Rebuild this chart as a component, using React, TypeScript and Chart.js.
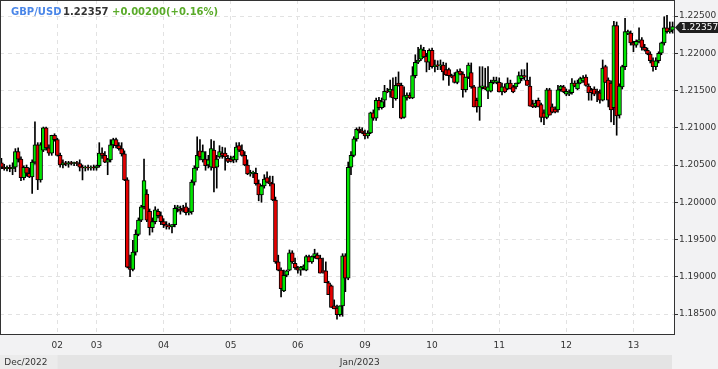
import React, { useEffect, useRef } from "react";
import { Chart, registerables } from "chart.js";

Chart.register(...registerables);

// Hourly GBP/USD candles: [open, high, low, close]
const candles: [number, number, number, number][] = [
  // Dec 30
  [1.2053, 1.2059, 1.2045, 1.2047], [1.2047, 1.2051, 1.2043, 1.2045], [1.2045, 1.2049, 1.2042, 1.2047],
  [1.2047, 1.2050, 1.2041, 1.2045], [1.2045, 1.2053, 1.2037, 1.2047], [1.2047, 1.2072, 1.2041, 1.2068],
  [1.2068, 1.2073, 1.2054, 1.2058], [1.2058, 1.2061, 1.2029, 1.2033], [1.2033, 1.2049, 1.2030, 1.2047],
  [1.2047, 1.2050, 1.2035, 1.2039], [1.2039, 1.2046, 1.2033, 1.2034], [1.2034, 1.2057, 1.2012, 1.2054],
  [1.2054, 1.2108, 1.2051, 1.2077], [1.2077, 1.2080, 1.2017, 1.2030], [1.2030, 1.2080, 1.2027, 1.2077],
  [1.2070, 1.2101, 1.2068, 1.2100], [1.2100, 1.2101, 1.2070, 1.2073], [1.2073, 1.2077, 1.2063, 1.2066],
  [1.2066, 1.2090, 1.2063, 1.2090], [1.2090, 1.2092, 1.2082, 1.2084],
  // Jan 02
  [1.2084, 1.2086, 1.2062, 1.2063], [1.2063, 1.2066, 1.2047, 1.2050], [1.2050, 1.2057, 1.2046, 1.2053],
  [1.2053, 1.2055, 1.2049, 1.2051], [1.2051, 1.2055, 1.2047, 1.2053], [1.2053, 1.2055, 1.2050, 1.2052],
  [1.2052, 1.2054, 1.2049, 1.2053], [1.2053, 1.2055, 1.2049, 1.2052], [1.2052, 1.2057, 1.2042, 1.2047],
  [1.2047, 1.2050, 1.2030, 1.2046], [1.2046, 1.2049, 1.2042, 1.2047], [1.2047, 1.2050, 1.2043, 1.2046],
  [1.2046, 1.2049, 1.2043, 1.2047], [1.2047, 1.2050, 1.2043, 1.2046],
  // Jan 03
  [1.2046, 1.2050, 1.2043, 1.2049], [1.2049, 1.2080, 1.2047, 1.2066], [1.2066, 1.2073, 1.2059, 1.2063],
  [1.2063, 1.2068, 1.2053, 1.2054], [1.2054, 1.2059, 1.2037, 1.2057], [1.2057, 1.2084, 1.2054, 1.2077],
  [1.2077, 1.2086, 1.2073, 1.2084], [1.2084, 1.2086, 1.2073, 1.2076], [1.2076, 1.2080, 1.2070, 1.2072],
  [1.2072, 1.2080, 1.2062, 1.2065], [1.2065, 1.2069, 1.2029, 1.2030], [1.2030, 1.2033, 1.1912, 1.1913],
  [1.1913, 1.1929, 1.1900, 1.1910], [1.1910, 1.1949, 1.1908, 1.1933], [1.1933, 1.1963, 1.1929, 1.1957],
  [1.1957, 1.1979, 1.1955, 1.1976], [1.1976, 1.1996, 1.1974, 1.1994], [1.1994, 1.2058, 1.1991, 1.2029],
  [1.2011, 1.2017, 1.1974, 1.1976], [1.1988, 1.1991, 1.1956, 1.1966], [1.1966, 1.1979, 1.1960, 1.1974],
  [1.1974, 1.1994, 1.1971, 1.1990], [1.1988, 1.1991, 1.1979, 1.1982], [1.1982, 1.1987, 1.1970, 1.1974],
  // Jan 04
  [1.1974, 1.1978, 1.1966, 1.1970], [1.1970, 1.1974, 1.1964, 1.1968], [1.1968, 1.1972, 1.1964, 1.1967],
  [1.1967, 1.1970, 1.1959, 1.1970], [1.1970, 1.1996, 1.1967, 1.1992], [1.1992, 1.1996, 1.1987, 1.1994],
  [1.1991, 1.1995, 1.1984, 1.1988], [1.1992, 1.1996, 1.1987, 1.1990], [1.1994, 1.1999, 1.1983, 1.1986],
  [1.1986, 1.1992, 1.1983, 1.1987], [1.1987, 1.2030, 1.1984, 1.2027], [1.2027, 1.2049, 1.2023, 1.2046],
  [1.2046, 1.2088, 1.2043, 1.2063], [1.2069, 1.2084, 1.2057, 1.2061], [1.2057, 1.2077, 1.2054, 1.2068],
  [1.2058, 1.2068, 1.2043, 1.2049], [1.2050, 1.2063, 1.2046, 1.2057], [1.2047, 1.2084, 1.2043, 1.2072],
  [1.2070, 1.2082, 1.2014, 1.2046], [1.2047, 1.2063, 1.2019, 1.2058], [1.2061, 1.2076, 1.2059, 1.2068],
  [1.2066, 1.2074, 1.2059, 1.2063], [1.2066, 1.2073, 1.2043, 1.2061], [1.2059, 1.2063, 1.2053, 1.2055],
  // Jan 05
  [1.2058, 1.2062, 1.2054, 1.2055], [1.2057, 1.2062, 1.2053, 1.2061], [1.2057, 1.2080, 1.2054, 1.2074],
  [1.2076, 1.2080, 1.2068, 1.2070], [1.2070, 1.2077, 1.2062, 1.2063], [1.2063, 1.2068, 1.2049, 1.2050],
  [1.2050, 1.2057, 1.2037, 1.2038], [1.2038, 1.2043, 1.2035, 1.2039], [1.2039, 1.2042, 1.2033, 1.2039],
  [1.2039, 1.2046, 1.2023, 1.2025], [1.2025, 1.2030, 1.2002, 1.2010], [1.2010, 1.2023, 1.2000, 1.2022],
  [1.2022, 1.2037, 1.2019, 1.2031], [1.2033, 1.2041, 1.2026, 1.2027], [1.2027, 1.2035, 1.2022, 1.2025],
  [1.2025, 1.2035, 1.2002, 1.2003], [1.2003, 1.2007, 1.1918, 1.1920], [1.1920, 1.1929, 1.1908, 1.1909],
  [1.1909, 1.1912, 1.1873, 1.1884], [1.1881, 1.1909, 1.1880, 1.1902], [1.1902, 1.1909, 1.1900, 1.1908],
  [1.1909, 1.1936, 1.1908, 1.1932], [1.1932, 1.1935, 1.1918, 1.1920], [1.1918, 1.1925, 1.1910, 1.1912],
  // Jan 06
  [1.1912, 1.1914, 1.1905, 1.1909], [1.1909, 1.1914, 1.1902, 1.1913], [1.1912, 1.1916, 1.1909, 1.1914],
  [1.1909, 1.1929, 1.1908, 1.1927], [1.1927, 1.1929, 1.1920, 1.1920], [1.1920, 1.1928, 1.1918, 1.1927],
  [1.1927, 1.1937, 1.1925, 1.1931], [1.1929, 1.1932, 1.1924, 1.1924], [1.1925, 1.1929, 1.1905, 1.1905],
  [1.1908, 1.1925, 1.1905, 1.1907], [1.1908, 1.1920, 1.1892, 1.1892], [1.1892, 1.1894, 1.1876, 1.1876],
  [1.1888, 1.1889, 1.1859, 1.1859], [1.1861, 1.1869, 1.1857, 1.1857], [1.1858, 1.1862, 1.1843, 1.1849],
  [1.1849, 1.1861, 1.1847, 1.1861], [1.1861, 1.1931, 1.1847, 1.1928], [1.1928, 1.1931, 1.1880, 1.1898],
  [1.1898, 1.2054, 1.1896, 1.2047], [1.2047, 1.2068, 1.2037, 1.2063], [1.2063, 1.2088, 1.2061, 1.2085],
  [1.2085, 1.2100, 1.2082, 1.2098], [1.2098, 1.2101, 1.2093, 1.2096], [1.2096, 1.2100, 1.2092, 1.2093],
  // Jan 09
  [1.2093, 1.2097, 1.2085, 1.2089], [1.2089, 1.2096, 1.2086, 1.2093], [1.2093, 1.2121, 1.2092, 1.2120],
  [1.2120, 1.2124, 1.2110, 1.2113], [1.2113, 1.2140, 1.2110, 1.2137], [1.2137, 1.2141, 1.2124, 1.2127],
  [1.2127, 1.2140, 1.2125, 1.2135], [1.2137, 1.2157, 1.2128, 1.2149], [1.2149, 1.2153, 1.2147, 1.2148],
  [1.2148, 1.2164, 1.2141, 1.2152], [1.2151, 1.2167, 1.2127, 1.2140], [1.2139, 1.2168, 1.2137, 1.2157],
  [1.2160, 1.2175, 1.2156, 1.2157], [1.2157, 1.2160, 1.2112, 1.2113], [1.2114, 1.2155, 1.2113, 1.2143],
  [1.2140, 1.2147, 1.2137, 1.2144], [1.2144, 1.2147, 1.2139, 1.2140], [1.2140, 1.2182, 1.2139, 1.2170],
  [1.2170, 1.2198, 1.2167, 1.2188], [1.2188, 1.2208, 1.2186, 1.2191], [1.2192, 1.2211, 1.2190, 1.2206],
  [1.2204, 1.2208, 1.2194, 1.2195], [1.2196, 1.2200, 1.2175, 1.2188], [1.2188, 1.2206, 1.2178, 1.2204],
  // Jan 10
  [1.2204, 1.2207, 1.2180, 1.2182], [1.2182, 1.2191, 1.2175, 1.2184], [1.2184, 1.2190, 1.2178, 1.2183],
  [1.2183, 1.2191, 1.2178, 1.2184], [1.2184, 1.2188, 1.2164, 1.2175], [1.2178, 1.2187, 1.2170, 1.2171],
  [1.2178, 1.2180, 1.2157, 1.2170], [1.2170, 1.2172, 1.2167, 1.2168], [1.2170, 1.2174, 1.2160, 1.2161],
  [1.2161, 1.2178, 1.2159, 1.2175], [1.2176, 1.2179, 1.2171, 1.2172], [1.2172, 1.2175, 1.2141, 1.2151],
  [1.2151, 1.2168, 1.2148, 1.2168], [1.2168, 1.2187, 1.2166, 1.2184], [1.2174, 1.2187, 1.2153, 1.2155],
  [1.2155, 1.2157, 1.2128, 1.2128], [1.2137, 1.2140, 1.2121, 1.2128], [1.2128, 1.2182, 1.2110, 1.2155],
  [1.2155, 1.2182, 1.2152, 1.2156], [1.2155, 1.2180, 1.2151, 1.2152], [1.2149, 1.2182, 1.2139, 1.2155],
  [1.2149, 1.2164, 1.2148, 1.2161], [1.2161, 1.2168, 1.2159, 1.2164], [1.2161, 1.2168, 1.2159, 1.2163],
  // Jan 11
  [1.2161, 1.2167, 1.2148, 1.2148], [1.2148, 1.2160, 1.2144, 1.2155], [1.2155, 1.2159, 1.2147, 1.2148],
  [1.2152, 1.2167, 1.2151, 1.2160], [1.2160, 1.2164, 1.2152, 1.2152], [1.2155, 1.2157, 1.2147, 1.2148],
  [1.2155, 1.2160, 1.2152, 1.2160], [1.2160, 1.2175, 1.2159, 1.2170], [1.2166, 1.2178, 1.2163, 1.2170],
  [1.2170, 1.2178, 1.2164, 1.2168], [1.2164, 1.2187, 1.2157, 1.2157], [1.2156, 1.2168, 1.2129, 1.2129],
  [1.2132, 1.2137, 1.2127, 1.2128], [1.2129, 1.2137, 1.2127, 1.2133], [1.2137, 1.2140, 1.2128, 1.2128],
  [1.2131, 1.2133, 1.2108, 1.2114], [1.2120, 1.2124, 1.2104, 1.2114], [1.2114, 1.2153, 1.2112, 1.2151],
  [1.2151, 1.2153, 1.2117, 1.2117], [1.2128, 1.2132, 1.2120, 1.2121], [1.2125, 1.2128, 1.2120, 1.2121],
  [1.2124, 1.2157, 1.2121, 1.2151], [1.2151, 1.2157, 1.2149, 1.2156], [1.2155, 1.2157, 1.2147, 1.2148],
  // Jan 12
  [1.2145, 1.2152, 1.2143, 1.2149], [1.2145, 1.2151, 1.2143, 1.2147], [1.2147, 1.2166, 1.2145, 1.2160],
  [1.2160, 1.2163, 1.2155, 1.2156], [1.2152, 1.2164, 1.2151, 1.2160], [1.2160, 1.2168, 1.2159, 1.2166],
  [1.2163, 1.2170, 1.2161, 1.2167], [1.2168, 1.2171, 1.2156, 1.2157], [1.2156, 1.2159, 1.2137, 1.2147],
  [1.2151, 1.2153, 1.2137, 1.2147], [1.2152, 1.2155, 1.2143, 1.2145], [1.2149, 1.2152, 1.2135, 1.2147],
  [1.2147, 1.2151, 1.2133, 1.2137], [1.2137, 1.2191, 1.2136, 1.2180], [1.2182, 1.2184, 1.2161, 1.2161],
  [1.2164, 1.2167, 1.2128, 1.2137], [1.2160, 1.2163, 1.2108, 1.2124], [1.2127, 1.2243, 1.2104, 1.2237],
  [1.2237, 1.2242, 1.2090, 1.2116], [1.2117, 1.2159, 1.2113, 1.2156], [1.2155, 1.2184, 1.2152, 1.2182],
  [1.2182, 1.2247, 1.2178, 1.2229], [1.2227, 1.2231, 1.2225, 1.2229], [1.2227, 1.2230, 1.2211, 1.2214],
  // Jan 13
  [1.2214, 1.2216, 1.2202, 1.2211], [1.2211, 1.2218, 1.2208, 1.2216], [1.2216, 1.2234, 1.2214, 1.2218],
  [1.2218, 1.2221, 1.2204, 1.2208], [1.2208, 1.2212, 1.2203, 1.2204], [1.2204, 1.2207, 1.2198, 1.2199],
  [1.2199, 1.2202, 1.2187, 1.2190], [1.2190, 1.2194, 1.2176, 1.2182], [1.2182, 1.2194, 1.2178, 1.2190],
  [1.2190, 1.2202, 1.2187, 1.2200], [1.2200, 1.2215, 1.2198, 1.2214], [1.2214, 1.2249, 1.2211, 1.2234],
  [1.2234, 1.2251, 1.2227, 1.2229], [1.2229, 1.2242, 1.2227, 1.2231], [1.2231, 1.2242, 1.2227, 1.22357],
];

const dayTickIndex = [20, 34, 58, 82, 106, 130, 154, 178, 202, 226];
const dayTickLabels = ["02", "03", "04", "05", "06", "09", "10", "11", "12", "13"];
const monthTickIndex = [1, 121];
const monthTickLabels = ["Dec/2022", "Jan/2023"];
const yTicks = [1.185, 1.19, 1.195, 1.2, 1.205, 1.21, 1.215, 1.22, 1.225];
const yMin = 1.18232;
const yMax = 1.22715;

const symbol = "GBP/USD";
const lastPriceText = "1.22357";
const changeText = "+0.00200(+0.16%)";

const FONT = "DejaVu Sans";

export default function App() {
  const ref = useRef<HTMLCanvasElement | null>(null);

  useEffect(() => {
    const canvas = ref.current;
    if (!canvas) return;
    const dayMap = new Map<number, string>();
    dayTickIndex.forEach((v, i) => dayMap.set(v, dayTickLabels[i]));
    const monthMap = new Map<number, string>();
    monthTickIndex.forEach((v, i) => monthMap.set(v, monthTickLabels[i]));

    const decor = {
      id: "decor",
      beforeDraw(chart: any) {
        const { ctx, chartArea: a, width, height } = chart;
        const xs = chart.scales.x;
        const xm = chart.scales.xm;
        ctx.save();
        ctx.fillStyle = "#f2f2f3";
        ctx.fillRect(0, 0, width, height);
        ctx.fillStyle = "#ffffff";
        ctx.fillRect(a.left, a.top, a.right - a.left, a.bottom - a.top);
        const split = xs.getPixelForValue(dayTickIndex[0]);
        const bandTop = xm.top;
        ctx.fillStyle = "#ebebeb";
        ctx.fillRect(0, bandTop, split, height - bandTop);
        ctx.fillStyle = "#e4e4e4";
        ctx.fillRect(split, bandTop, a.right - 2 - split, height - bandTop);
        ctx.restore();
      },
      afterDatasetsDraw(chart: any) {
        const { ctx, chartArea: a } = chart;
        ctx.save();
        ctx.strokeStyle = "#333333";
        ctx.lineWidth = 1;
        ctx.strokeRect(a.left + 0.5, a.top + 0.5, a.right - a.left, a.bottom - a.top);
        ctx.restore();
      },
      afterDraw(chart: any) {
        const { ctx, chartArea: a, width } = chart;
        const ys = chart.scales.y;
        const last = candles[candles.length - 1][3];
        const y = Math.round(ys.getPixelForValue(last)) + 0.5;
        const x0 = a.right + 1;
        ctx.save();
        ctx.fillStyle = "#1e1e1e";
        ctx.beginPath();
        ctx.moveTo(x0, y);
        ctx.lineTo(x0 + 5, y - 5.5);
        ctx.lineTo(width, y - 5.5);
        ctx.lineTo(width, y + 5.5);
        ctx.lineTo(x0 + 5, y + 5.5);
        ctx.closePath();
        ctx.fill();
        ctx.fillStyle = "#ffffff";
        ctx.font = `9px "${FONT}"`;
        ctx.textBaseline = "middle";
        ctx.textAlign = "left";
        ctx.fillText(lastPriceText, x0 + 6, y + 0.5);
        ctx.restore();
      },
    };

    const chart = new Chart(canvas, {
      type: "bar",
      data: {
        labels: candles.map((_, i) => String(i)),
        datasets: [
          {
            label: "wick",
            data: candles.map((c) => [c[2], c[1]]),
            backgroundColor: "#000000",
            barThickness: 1,
            grouped: false,
            order: 2,
          } as any,
          {
            label: "body",
            data: candles.map((c) => [c[0], c[3]]),
            backgroundColor: candles.map((c) => (c[3] >= c[0] ? "#00e600" : "#e60000")),
            borderColor: "#000000",
            borderWidth: 1,
            borderSkipped: false,
            barThickness: 4,
            minBarLength: 1,
            grouped: false,
            order: 1,
          } as any,
        ],
      },
      options: {
        animation: false,
        responsive: false,
        devicePixelRatio: 1,
        layout: { padding: 0 },
        plugins: {
          legend: { display: false },
          tooltip: { enabled: false },
          title: { display: false },
        },
        scales: {
          x: {
            type: "category",
            position: "bottom",
            offset: true,
            weight: 0,
            grid: { offset: false, color: "#e2e2e2", drawTicks: false, lineWidth: 1 },
            border: { display: false, dash: [4, 4] },
            ticks: {
              autoSkip: false,
              maxRotation: 0,
              minRotation: 0,
              padding: 6,
              color: "#333333",
              font: { family: FONT, size: 9 },
              callback: (v: any) => dayMap.get(Number(v)) ?? "",
            },
            afterBuildTicks: (s: any) => {
              s.ticks = dayTickIndex.map((v) => ({ value: v }));
            },
            afterFit: (s: any) => {
              s.height = 21;
              s.paddingLeft = 0;
              s.paddingRight = 0;
            },
          } as any,
          xm: {
            type: "category",
            position: "bottom",
            offset: true,
            weight: 1,
            grid: { display: false, drawTicks: false },
            border: { display: false },
            ticks: {
              autoSkip: false,
              maxRotation: 0,
              minRotation: 0,
              align: "start",
              padding: 2,
              color: "#333333",
              font: { family: FONT, size: 9 },
              callback: (v: any) => monthMap.get(Number(v)) ?? "",
            },
            afterBuildTicks: (s: any) => {
              s.ticks = monthTickIndex.map((v) => ({ value: v }));
            },
            afterFit: (s: any) => {
              s.height = 14;
              s.paddingLeft = 0;
              s.paddingRight = 0;
            },
          } as any,
          y: {
            type: "linear",
            position: "right",
            min: yMin,
            max: yMax,
            grid: { color: "#e2e2e2", tickColor: "#333333", tickLength: 4, drawTicks: true, lineWidth: 1 },
            border: { display: false, dash: [4, 4] },
            ticks: {
              padding: 1,
              color: "#333333",
              font: { family: FONT, size: 9 },
              callback: (v: any) => Number(v).toFixed(5),
            },
            afterBuildTicks: (s: any) => {
              s.ticks = yTicks.map((v) => ({ value: v }));
            },
            afterFit: (s: any) => {
              s.width = 44;
              s.paddingTop = 0;
              s.paddingBottom = 0;
            },
          } as any,
        },
      },
      plugins: [decor],
    });
    return () => chart.destroy();
  }, []);

  const titleFont = `bold 10px "${FONT}"`;
  return (
    <div style={{ position: "fixed", left: 0, top: 0, width: 718, height: 369, overflow: "hidden" }}>
      <canvas ref={ref} width={718} height={369} style={{ display: "block", width: 718, height: 369 }} />
      <div style={{ position: "absolute", left: 0, top: 0, font: titleFont, lineHeight: "12px", whiteSpace: "nowrap" }}>
        <span style={{ position: "absolute", left: 11, top: 6, color: "#4a86e8" }}>{symbol}</span>
        <span style={{ position: "absolute", left: 63, top: 6, color: "#333333" }}>{lastPriceText}</span>
        <span style={{ position: "absolute", left: 112, top: 6, color: "#5aab2a" }}>{changeText}</span>
      </div>
    </div>
  );
}
